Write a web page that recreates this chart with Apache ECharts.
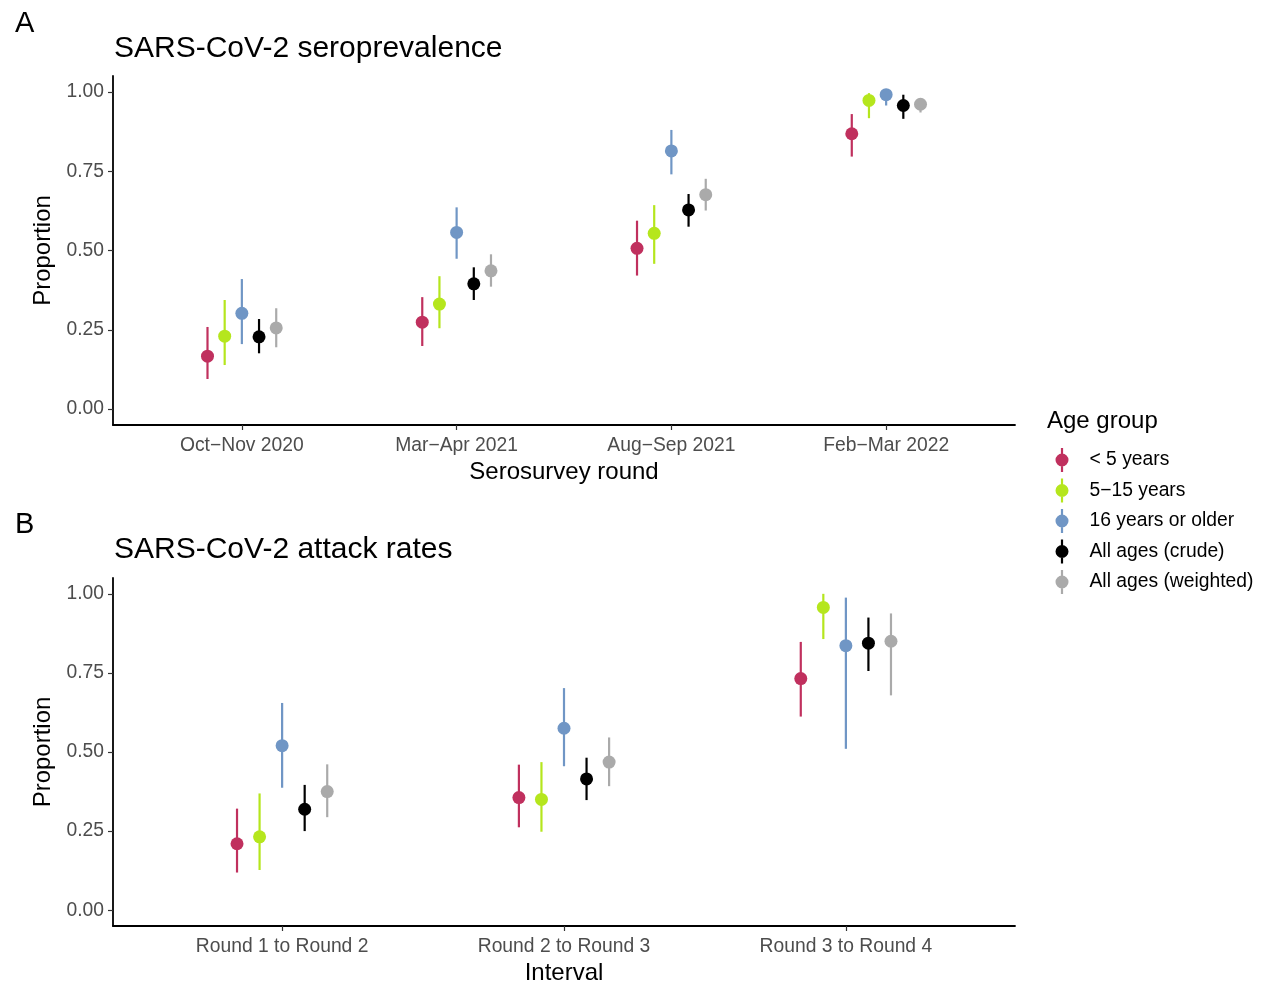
<!DOCTYPE html>
<html>
<head>
<meta charset="utf-8">
<script src="https://cdn.jsdelivr.net/npm/echarts@6/dist/echarts.min.js"></script>
<style>
html,body{margin:0;padding:0;background:#fff;}
#chart{width:1265px;height:986px;}
</style>
</head>
<body>
<div id="chart"></div>
<script>
// ---- Data ----
const seroCategories = ['Oct\u2212Nov 2020', 'Mar\u2212Apr 2021', 'Aug\u2212Sep 2021', 'Feb\u2212Mar 2022'];
const attackCategories = ['Round 1 to Round 2', 'Round 2 to Round 3', 'Round 3 to Round 4'];
const groups = ['< 5 years', '5\u221215 years', '16 years or older', 'All ages (crude)', 'All ages (weighted)'];
const groupColors = ['#C0305E', '#B5E61D', '#7096C5', '#000000', '#AAAAAA'];
const yTicks = [0, 0.25, 0.5, 0.75, 1];

// Seroprevalence: estimate / lower / upper per group (order as groups)
const seroEst = [
  [0.167, 0.274, 0.507, 0.868],
  [0.230, 0.331, 0.554, 0.973],
  [0.302, 0.557, 0.814, 0.991],
  [0.228, 0.395, 0.628, 0.957],
  [0.256, 0.436, 0.676, 0.961]
];
const seroLo = [
  [0.095, 0.199, 0.421, 0.796],
  [0.139, 0.255, 0.458, 0.917],
  [0.205, 0.474, 0.740, 0.957],
  [0.176, 0.344, 0.575, 0.915],
  [0.195, 0.386, 0.626, 0.935]
];
const seroHi = [
  [0.259, 0.353, 0.594, 0.930],
  [0.344, 0.419, 0.643, 0.996],
  [0.410, 0.636, 0.880, 1.000],
  [0.284, 0.447, 0.678, 0.991],
  [0.318, 0.488, 0.726, 0.978]
];

// Attack rates
const attackEst = [
  [0.210, 0.356, 0.732],
  [0.232, 0.350, 0.957],
  [0.520, 0.575, 0.836],
  [0.319, 0.415, 0.844],
  [0.375, 0.468, 0.850]
];
const attackLo = [
  [0.119, 0.262, 0.612],
  [0.127, 0.248, 0.857],
  [0.387, 0.455, 0.510],
  [0.250, 0.348, 0.756],
  [0.294, 0.392, 0.679]
];
const attackHi = [
  [0.321, 0.460, 0.848],
  [0.369, 0.468, 1.000],
  [0.655, 0.702, 0.988],
  [0.396, 0.482, 0.925],
  [0.461, 0.546, 0.938]
];

// ---- Layout / style ----
const FONT = '"Liberation Sans", Arial, sans-serif';
const dodgeStep = 0.08;
const chart = echarts.init(document.getElementById('chart'), null, {renderer: 'canvas'});

function renderItem(params, api) {
  const x = api.value(0), y = api.value(1), lo = api.value(2), hi = api.value(3);
  const pLo = api.coord([x, lo]);
  const pHi = api.coord([x, hi]);
  const p = api.coord([x, y]);
  const color = api.visual('color');
  return {
    type: 'group',
    children: [
      {type: 'line', shape: {x1: pLo[0], y1: pLo[1], x2: pHi[0], y2: pHi[1]}, style: {stroke: color, lineWidth: 2.2}},
      {type: 'circle', shape: {cx: p[0], cy: p[1], r: 6.5}, style: {fill: color}}
    ]
  };
}

function buildSeries(est, lo, hi, axisIdx) {
  return groups.map((g, gi) => ({
    name: g,
    type: 'custom',
    xAxisIndex: axisIdx,
    yAxisIndex: axisIdx,
    renderItem: renderItem,
    clip: false,
    itemStyle: {color: groupColors[gi]},
    encode: {x: 0, y: [1, 2, 3]},
    data: est[gi].map((v, ci) => [ci + 1 + (gi - 2) * dodgeStep, v, lo[gi][ci], hi[gi][ci]])
  }));
}

function xAxis(cats, gridIdx, name) {
  const vals = cats.map((c, i) => i + 1);
  return {
    type: 'value', gridIndex: gridIdx,
    min: 0.4, max: cats.length + 0.6,
    name: name, nameLocation: 'middle', nameGap: 35,
    nameTextStyle: {fontFamily: FONT, fontSize: 24, color: '#000'},
    splitLine: {show: false},
    axisLine: {show: true, onZero: false, lineStyle: {color: '#000', width: 1.8}},
    axisTick: {show: true, customValues: vals, length: 5, lineStyle: {color: '#333', width: 1.2}},
    axisLabel: {customValues: vals, margin: 11, fontFamily: FONT, fontSize: 19.3, color: '#4D4D4D',
      formatter: v => cats[Math.round(v) - 1] || ''}
  };
}

function yAxis(gridIdx) {
  return {
    type: 'value', gridIndex: gridIdx,
    min: -0.05, max: 1.05,
    name: 'Proportion', nameLocation: 'middle', nameGap: 56,
    nameTextStyle: {fontFamily: FONT, fontSize: 24, color: '#000'},
    splitLine: {show: false},
    axisLine: {show: true, onZero: false, lineStyle: {color: '#000', width: 1.8}},
    axisTick: {show: true, customValues: yTicks, length: 5, lineStyle: {color: '#333', width: 1.2}},
    axisLabel: {customValues: yTicks, margin: 9, fontFamily: FONT, fontSize: 19.3, color: '#4D4D4D',
      formatter: v => v.toFixed(2)}
  };
}

const legendIcon = 'path://M5.4,0 H7.6 V6 H5.4 Z M0,12 A6.5,6.5 0 1 1 13,12 A6.5,6.5 0 1 1 0,12 Z M5.4,18 H7.6 V24 H5.4 Z';

const option = {
  backgroundColor: '#fff',
  animation: false,
  title: [
    {text: 'A', left: 15, top: 9, padding: 0, textStyle: {fontFamily: FONT, fontSize: 29, fontWeight: 'normal', color: '#000'}},
    {text: 'SARS-CoV-2 seroprevalence', left: 114, top: 34, padding: 0, textStyle: {fontFamily: FONT, fontSize: 30, fontWeight: 'normal', color: '#000'}},
    {text: 'B', left: 15, top: 510, padding: 0, textStyle: {fontFamily: FONT, fontSize: 29, fontWeight: 'normal', color: '#000'}},
    {text: 'SARS-CoV-2 attack rates', left: 114, top: 535, padding: 0, textStyle: {fontFamily: FONT, fontSize: 30, fontWeight: 'normal', color: '#000'}},
    {text: 'Age group', left: 1047, top: 409, padding: 0, textStyle: {fontFamily: FONT, fontSize: 24, fontWeight: 'normal', color: '#000'}}
  ],
  legend: {
    orient: 'vertical',
    left: 1055.5, top: 448,
    padding: 0,
    itemWidth: 13, itemHeight: 24, itemGap: 6.5,
    selectedMode: false,
    data: groups.map(g => ({name: g, icon: legendIcon})),
    textStyle: {fontFamily: FONT, fontSize: 19.3, color: '#000', padding: [0, 0, 0, 16]}
  },
  grid: [
    {left: 113, width: 902, top: 76, height: 349, containLabel: false},
    {left: 113, width: 902, top: 578, height: 349, containLabel: false}
  ],
  xAxis: [xAxis(seroCategories, 0, 'Serosurvey round'), xAxis(attackCategories, 1, 'Interval')],
  yAxis: [yAxis(0), yAxis(1)],
  series: [].concat(buildSeries(seroEst, seroLo, seroHi, 0), buildSeries(attackEst, attackLo, attackHi, 1))
};

chart.setOption(option);
</script>
</body>
</html>
